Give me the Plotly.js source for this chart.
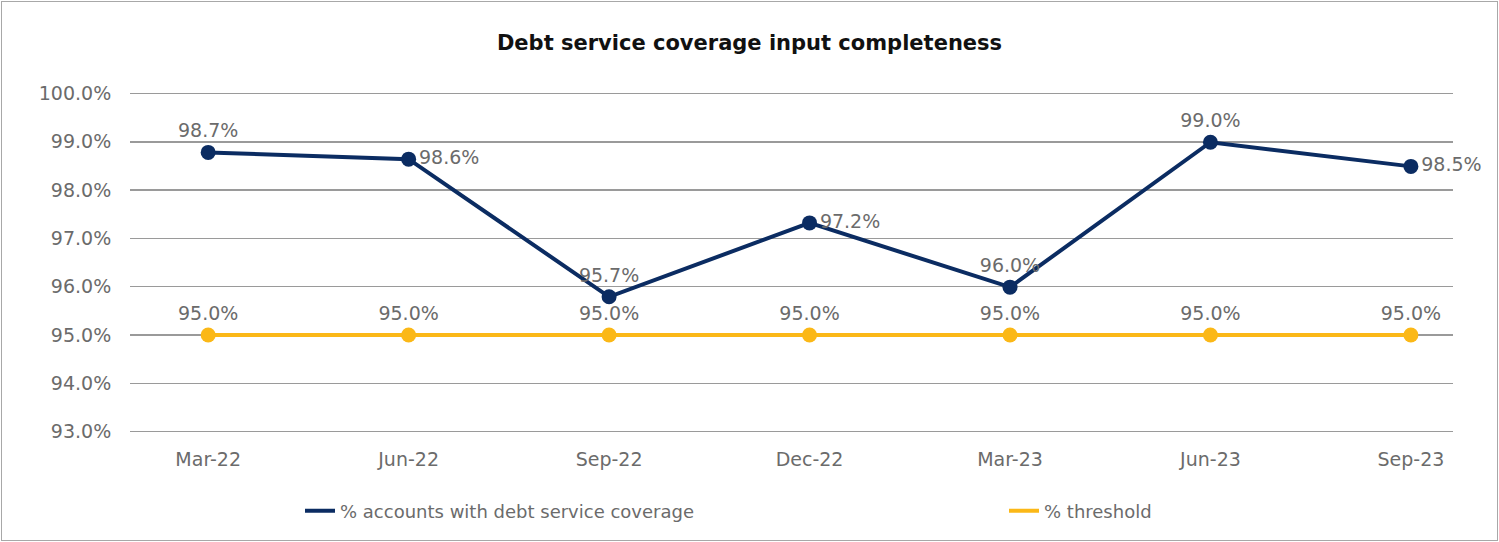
<!DOCTYPE html>
<html>
<head>
<meta charset="utf-8">
<script src="https://cdn.plot.ly/plotly-3.0.1.min.js"></script>
<style>
  html, body { margin: 0; padding: 0; background: #fff; }
  #wrap { position: relative; width: 1499px; height: 542px; }
  #chart { width: 1499px; height: 542px; }
  #frame { position: absolute; left: 1px; top: 1px; width: 1495px; height: 538px; border: 1px solid #a8a8a8; pointer-events: none; }
</style>
</head>
<body>
<div id="wrap"><div id="chart"></div><div id="frame"></div></div>
<script>
const categories = ["Mar-22", "Jun-22", "Sep-22", "Dec-22", "Mar-23", "Jun-23", "Sep-23"];
const coverageValues = [98.78, 98.64, 95.79, 97.32, 95.99, 98.99, 98.49];
const coverageLabels = ["98.7%", "98.6%", "95.7%", "97.2%", "96.0%", "99.0%", "98.5%"];
const coveragePositions = ["top center", "middle right", "top center", "middle right", "top center", "top center", "middle right"];
const thresholdValues = [95.0, 95.0, 95.0, 95.0, 95.0, 95.0, 95.0];
const thresholdLabels = ["95.0%", "95.0%", "95.0%", "95.0%", "95.0%", "95.0%", "95.0%"];
const yTickVals = [93, 94, 95, 96, 97, 98, 99, 100];
const yTickText = ["93.0%", "94.0%", "95.0%", "96.0%", "97.0%", "98.0%", "99.0%", "100.0%"];
const seriesNames = ["% accounts with debt service coverage", "% threshold"];

const FONT = "DejaVu Sans, Liberation Sans, Arial, sans-serif";
const GREY = "#6b6b6b";
const NAVY = "#0B2C62";
const GOLD = "#FBB817";

const traces = [
  {
    x: categories, y: thresholdValues, name: seriesNames[1], showlegend: false,
    type: "scatter", mode: "lines+markers+text",
    line: { color: GOLD, width: 4 },
    marker: { color: GOLD, size: 15 },
    text: thresholdLabels, textposition: "top center",
    textfont: { family: FONT, size: 19, color: GREY },
    cliponaxis: false
  },
  {
    x: categories, y: coverageValues, name: seriesNames[0], showlegend: false,
    type: "scatter", mode: "lines+markers+text",
    line: { color: NAVY, width: 4 },
    marker: { color: NAVY, size: 15 },
    text: coverageLabels, textposition: coveragePositions,
    textfont: { family: FONT, size: 19, color: GREY },
    cliponaxis: false
  },
  // legend entries (line only, as in the reference)
  { x: [null], y: [null], name: seriesNames[0], type: "scatter", mode: "lines",
    line: { color: NAVY, width: 4 }, legend: "legend" },
  { x: [null], y: [null], name: seriesNames[1], type: "scatter", mode: "lines",
    line: { color: GOLD, width: 4 }, legend: "legend2" }
];

const legendBase = {
  orientation: "h", xanchor: "left",
  y: 1 - 511 / 542, yanchor: "middle", yref: "container",
  font: { family: FONT, size: 18, color: GREY },
  bgcolor: "rgba(0,0,0,0)"
};

const layout = {
  width: 1499, height: 542,
  paper_bgcolor: "#ffffff", plot_bgcolor: "#ffffff",
  margin: { l: 130, r: 46, t: 92, b: 109 },
  font: { family: FONT, color: GREY },
  title: {
    text: "<b>Debt service coverage input completeness</b>",
    font: { family: FONT, size: 21, color: "#111111" },
    x: 0.5, xanchor: "center", xref: "container",
    y: 1 - 43 / 542, yanchor: "middle", yref: "container"
  },
  xaxis: {
    type: "category", range: [-0.39, 6.21],
    showgrid: false, zeroline: false, showline: false,
    ticks: "outside", ticklen: 9, tickcolor: "rgba(0,0,0,0)",
    tickfont: { family: FONT, size: 19, color: GREY },
    fixedrange: true
  },
  yaxis: {
    range: [92.97, 100.03], tickvals: yTickVals, ticktext: yTickText,
    showgrid: true, gridcolor: "#9a9a9a", gridwidth: 1.5,
    zeroline: false, showline: false,
    ticks: "outside", ticklen: 14, tickcolor: "rgba(0,0,0,0)",
    tickfont: { family: FONT, size: 19, color: GREY },
    fixedrange: true
  },
  showlegend: true,
  legend: Object.assign({}, legendBase, { x: (300 - 130) / 1323 }),
  legend2: Object.assign({}, legendBase, { x: (1004 - 130) / 1323 })
};

Plotly.newPlot("chart", traces, layout, { displayModeBar: false, staticPlot: true });
</script>
</body>
</html>
